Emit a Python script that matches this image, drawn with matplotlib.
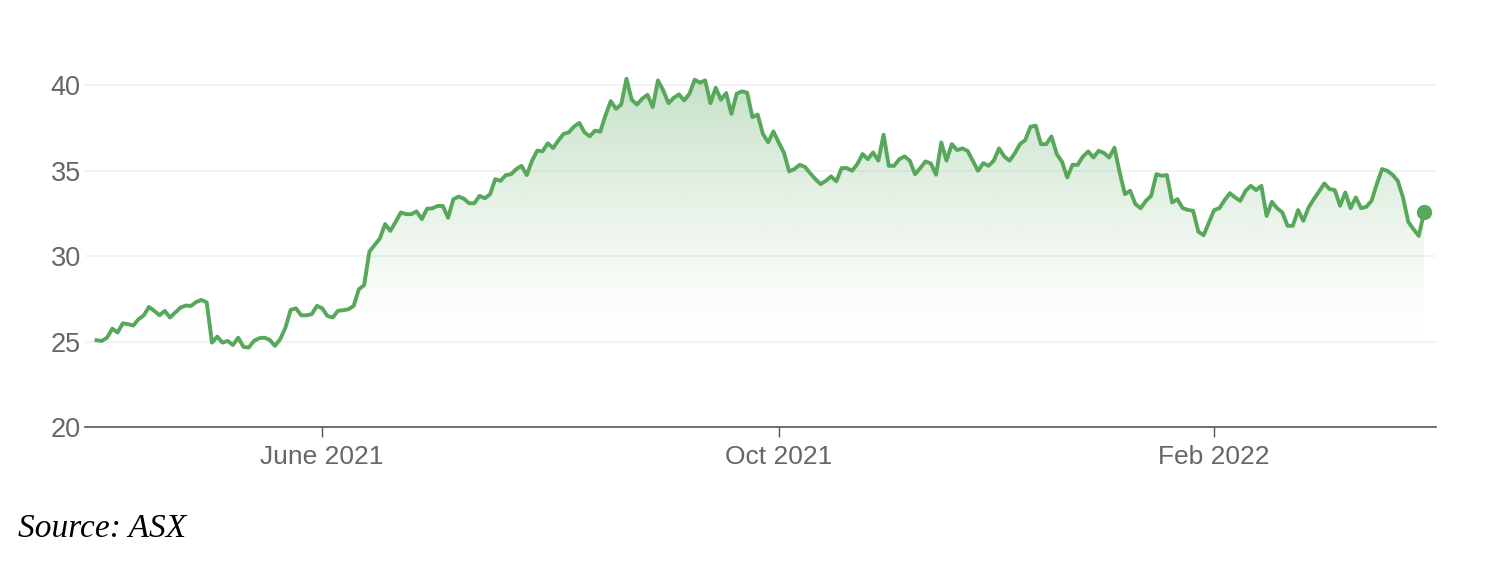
import numpy as np
import pandas as pd
import matplotlib
matplotlib.use("Agg")
import matplotlib.pyplot as plt

# daily closing prices, one per ASX trading day
close = [25.08, 25.04, 25.23, 25.76, 25.53, 26.07, 26.02, 25.94, 26.31, 26.54,
         27.03, 26.80, 26.54, 26.80, 26.41, 26.70, 26.99, 27.11, 27.09, 27.32,
         27.44, 27.29, 24.94, 25.29, 24.94, 25.04, 24.80, 25.23, 24.69, 24.65,
         25.04, 25.20, 25.23, 25.10, 24.75, 25.14, 25.82, 26.86, 26.95, 26.54,
         26.54, 26.60, 27.09, 26.95, 26.50, 26.41, 26.80, 26.84, 26.89, 27.09,
         28.07, 28.30, 30.27, 30.66, 31.04, 31.88, 31.48, 32.01, 32.56, 32.46,
         32.46, 32.62, 32.17,
         32.78, 32.80, 32.94, 32.94, 32.25, 33.33, 33.49, 33.37, 33.10, 33.10,
         33.53, 33.39, 33.63, 34.51, 34.41, 34.75, 34.80, 35.10, 35.29, 34.75,
         35.59, 36.18, 36.14, 36.61, 36.33, 36.76, 37.16, 37.25, 37.59, 37.80,
         37.25, 37.02, 37.35, 37.29, 38.24, 39.08, 38.63, 38.88, 40.39, 39.16,
         38.88, 39.22, 39.45, 38.73, 40.29, 39.71, 38.96, 39.27, 39.47, 39.12,
         39.51, 40.33, 40.16, 40.29, 38.96, 39.86, 39.16, 39.55, 38.33, 39.51,
         39.65, 39.57, 38.14, 38.29, 37.16, 36.67,
         37.30, 36.66, 36.07, 34.96, 35.10, 35.35, 35.23, 34.86, 34.51, 34.22,
         34.41, 34.67, 34.38, 35.16, 35.16, 35.00, 35.39, 35.98, 35.68, 36.07,
         35.59, 37.11, 35.29, 35.29, 35.68, 35.84, 35.59, 34.80, 35.16, 35.55,
         35.43, 34.77, 36.66, 35.59, 36.56, 36.21, 36.31, 36.17, 35.59, 35.00,
         35.45, 35.29, 35.59, 36.31, 35.84, 35.59, 36.02, 36.56, 36.80, 37.58,
         37.64, 36.56, 36.56, 37.01, 35.98, 35.53, 34.61, 35.35, 35.35, 35.84,
         36.13, 35.78, 36.17, 36.04, 35.78,
         36.35, 34.90, 33.63, 33.83, 33.05, 32.81, 33.24, 33.54, 34.80, 34.71,
         34.75, 33.14, 33.34, 32.81, 32.71, 32.66, 31.43, 31.23, 31.97, 32.70,
         32.81, 33.28, 33.69, 33.44, 33.24, 33.83, 34.12, 33.87, 34.12, 32.36,
         33.18, 32.81, 32.56, 31.78, 31.78, 32.70, 32.07, 32.85, 33.34, 33.79,
         34.26, 33.93, 33.87, 32.95, 33.73, 32.81, 33.44, 32.81, 32.89, 33.24,
         34.22, 35.10, 35.00, 34.77, 34.41, 33.44, 32.01, 31.58, 31.19, 32.56]

asx_holidays = ["2021-04-02", "2021-04-05", "2021-04-26", "2021-06-14",
                "2021-12-27", "2021-12-28", "2022-01-03", "2022-01-26"]
dates = pd.bdate_range("2021-03-29", periods=len(close), freq="C",
                       holidays=asx_holidays)

tick_months = ["2021-06-01", "2021-10-01", "2022-02-01"]
tick_labels = ["June 2021", "Oct 2021", "Feb 2022"]
y_ticks = [20, 25, 30, 35, 40]

green = "#57a85b"
x = np.arange(len(close))
tick_pos = [int(np.searchsorted(dates, pd.Timestamp(m))) for m in tick_months]

fig = plt.figure(figsize=(14.86, 5.64), dpi=100)
ax = fig.add_axes([0.0572, 0.2429, 0.9092, 0.6663])
ymin, ymax = 20, 42

# gradient fill under the line
poly = ax.fill_between(x, close, ymin, color="none", lw=0)
rows = np.linspace(ymin, ymax, 300)
alpha = 0.33 * np.clip((rows - 25) / 15, 0, None) ** 1.3
grad = np.zeros((len(rows), 1, 4))
grad[..., :3] = matplotlib.colors.to_rgb(green)
grad[:, 0, 3] = np.clip(alpha, 0, 1)
im = ax.imshow(grad, extent=[x[0], x[-1], ymin, ymax], origin="lower",
               aspect="auto", zorder=1, interpolation="bilinear")
im.set_clip_path(poly.get_paths()[0], transform=ax.transData)

ax.plot(x, close, color=green, lw=2.8, zorder=3, solid_joinstyle="round")
ax.plot(x[-1], close[-1], "o", color=green, ms=10, zorder=4)

ax.set_xlim(-2.2, 255.3)
ax.set_ylim(ymin, ymax)

for v in y_ticks[1:]:
    ax.axhline(v, color="#f3f3f3", lw=1.4, zorder=0)

for s in ["top", "right", "left"]:
    ax.spines[s].set_visible(False)
ax.spines["bottom"].set_color("#555555")
ax.spines["bottom"].set_linewidth(1.2)

ax.set_yticks(y_ticks)
ax.set_yticklabels([str(v) for v in y_ticks])
ax.set_xticks(tick_pos)
ax.set_xticklabels(tick_labels)
ax.tick_params(axis="y", length=0, pad=3, labelsize=19.5, labelcolor="#666666")
ax.tick_params(axis="x", length=7, width=1, color="#555555", pad=6,
               labelsize=19, labelcolor="#666666")
for lab in ax.get_xticklabels() + ax.get_yticklabels():
    lab.set_family("Liberation Sans")

fig.text(0.012, 0.048, "Source: ASX", family="Liberation Serif",
         style="italic", fontsize=24, color="black")

fig.savefig("out.png", dpi=100)
